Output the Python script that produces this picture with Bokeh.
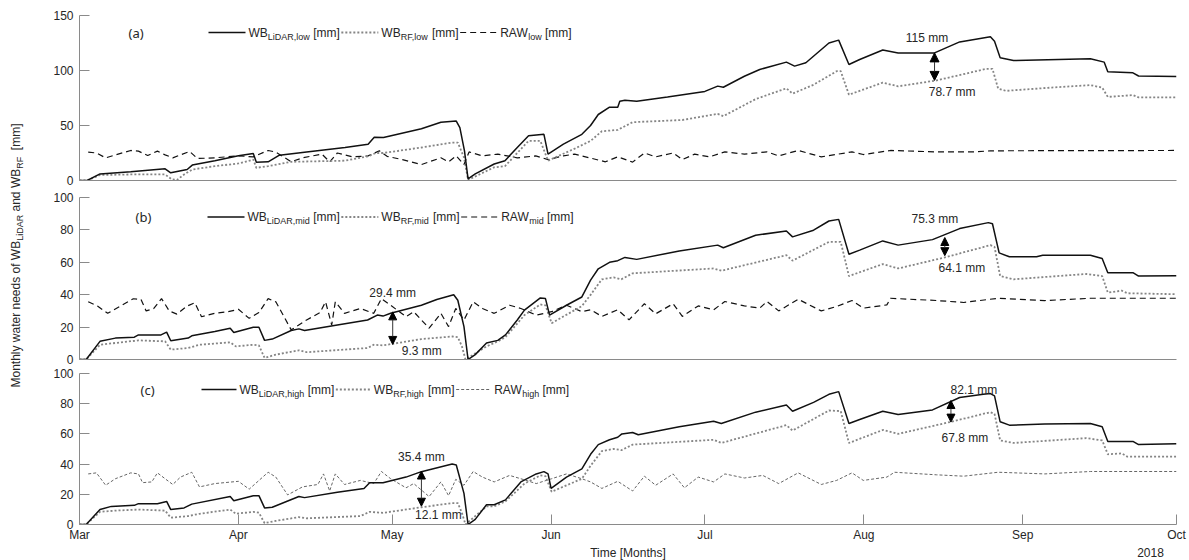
from math import pi
from bokeh.plotting import figure
from bokeh.layouts import row, column
from bokeh.models import Label, Arrow, NormalHead, Range1d, FixedTicker
from bokeh.embed import file_html
from bokeh.resources import INLINE

# ---------------- data (x = days since 1 March 2018) ----------------
MONTH_TICKS = [0, 31, 61, 92, 122, 153, 184, 214]
MONTH_LABELS = ["Mar", "Apr", "May", "Jun", "Jul", "Aug", "Sep", "Oct"]
YEAR_LABEL = "2018"
X_LABEL = "Time [Months]"

# panel (a) low
A_LIDAR_DAY = [0, 1.5, 4, 10, 16.7, 17.8, 21, 22, 26.4, 31, 33.9, 34.5, 36.8, 39, 44.3, 51.8, 56.3, 57.5, 59.3, 66.7,
               70.5, 73.5, 74.2, 75.1, 75.8, 77.2, 80.9, 83, 85.4, 87.6, 90.6, 91.4, 94.4, 98, 99.7, 101.2, 103.4,
               105, 105.4, 106.4, 108.7, 114.7, 122, 124.5, 125.6, 129.7, 132.7, 137.9, 139.5, 141.7, 146.2, 148.1,
               150.1, 152.2, 156.7, 159.7, 166.8, 171.7, 177.7, 178.5, 179.6, 182.2, 197.2, 199.9, 200.6, 205.5,
               206.6, 214]
A_LIDAR = [0, 0, 6, 8, 10.6, 7, 10, 14, 18, 22.5, 24.5, 16.7, 17, 23, 26, 30, 33, 39.4, 39, 47,
           53, 54, 48, 27, 1.5, 6, 15, 18, 30, 40.6, 42, 24, 33, 42, 50, 60, 66.7,
           66.5, 72, 73, 72, 76, 81, 85.8, 84.8, 94.8, 100.9, 107.6, 104, 107, 125, 127.6,
           105.5, 110, 118.6, 116, 116, 126, 130.6, 126.6, 111.5, 109, 110.6, 107.6, 98.8, 97.9,
           95, 94.5]
A_RF_DAY = [0, 1.5, 4, 10, 16.7, 18, 19, 20.4, 22, 26.4, 31, 33.9, 34.5, 36.8, 41.3, 51.8, 56.3, 57.8, 59.3, 66.7,
            72.7, 73.8, 75, 75.8, 80.9, 83, 87.6, 89.9, 91.4, 96.6, 99.7, 101.9, 105, 107.9, 117.6, 124.5, 125.6,
            131.9, 137.9, 139.1, 143.2, 147.7, 148.5, 150.1, 156.7, 159.7, 167.2, 176.9, 178.1, 179.2, 180.7,
            189.7, 197.2, 199.5, 200.6, 205.5, 206.6, 214]
A_RF = [0, 0, 5, 5.5, 5.5, 1, 0.5, 5.5, 10, 13, 15.5, 19, 11.5, 13, 17, 18, 22, 25, 25, 30,
        34.5, 34.5, 21, 0.5, 12, 13, 36, 36, 18, 29, 36, 44.8, 46, 53, 55, 60.6, 58.5,
        74, 83.8, 79, 87, 99.4, 99.4, 78, 89, 85.6, 91, 101.5, 101.5, 83.6, 81.5,
        84.5, 86.7, 84.5, 76, 77.6, 75.5, 75.5]
A_RAW_DAY = [1.7, 3.3, 5.1, 7, 10, 11.5, 13.3, 15.2, 16.7, 18.2, 19.7, 21.5, 23, 26.4, 31, 33.9, 36.8, 38.3, 41.3,
             43.5, 47.3, 48.8, 50.3, 53.3, 56.3, 58.5, 60, 63, 66.7, 68.6, 70.5, 72, 73.5, 75, 76, 78.6, 81.6,
             85.4, 89, 91.4, 94.4, 96.6, 99.5, 102.6, 105, 107.9, 110.2, 112.4, 115.8, 117.6, 120, 122.9, 125.9,
             129.7, 134.1, 136.4, 140.2, 144.7, 150.7, 152.9, 158.2, 167.2, 174.7, 177.7, 214]
A_RAW = [25.8, 25, 20.6, 23.3, 27.3, 26.7, 22.7, 26.7, 23.3, 20.6, 23.3, 26.4, 20, 20.6, 22.4, 21.5, 27.3, 25.8, 17,
         20.6, 24, 17, 25, 21.5, 22.4, 27, 22, 19, 14.5, 17.6, 20.6, 17, 22.4, 14.5, 26, 22.4, 24,
         20.6, 22.4, 19, 22.4, 24, 20.6, 17, 21.5, 16.7, 25, 21.5, 25, 19, 24, 21.5, 26,
         24, 26, 22.4, 27.3, 21.5, 26, 23.6, 27.3, 26, 26, 27, 27.3]

# panel (b) mid
B_LIDAR_DAY = [0, 1.3, 4, 7, 10.7, 11.5, 15.9, 17, 17.8, 21.2, 21.9, 26.4, 29.4, 30.1, 33.9, 35, 36.1, 37.6, 41.3,
               42.8, 43.9, 50.3, 56.2, 58.1, 59.2, 60.7, 66.7, 69.7, 73, 73.8, 75, 75.8, 77.2, 79.4, 81.6, 83.1,
               85.4, 86.8, 89.9, 90.9, 91.7, 95, 98, 99.7, 101.2, 103.4, 105, 106.4, 108.7, 117, 124.5, 125.6,
               131.9, 137.9, 139.1, 143.2, 146.2, 148.1, 150.1, 152.2, 156.7, 159.7, 166.4, 171.7, 177.3, 178.1,
               179.4, 181.4, 186.7, 187.9, 197.2, 199.5, 200.6, 205.5, 206.6, 214]
B_LIDAR = [0, 0, 11.2, 13.2, 13.8, 15.2, 15.2, 16.9, 11.6, 13.2, 14.6, 17.3, 19.3, 16.7, 19.9, 19.9, 11.8, 12.6, 17.9,
           18.9, 17.9, 21.3, 24.4, 27.4, 26.8, 28.5, 33.5, 37, 40, 36.6, 20.3, 0, 3, 10.2, 11.8, 15.2,
           24.4, 30.5, 38, 37.6, 27.4, 33.5, 38.6, 49, 56, 60, 61, 63, 61.8, 67, 70.6, 69,
           76.7, 79.3, 75.7, 79.8, 85.5, 86.5, 65, 67.5, 73.2, 70.6, 74, 80.8, 84.5, 83.8,
           65.8, 63.4, 63.4, 64.4, 64.4, 62.4, 53.6, 53.6, 51.5, 51.7]
B_RF_DAY = [0, 1.3, 4, 7, 11.5, 16.7, 17.8, 21.2, 23.4, 29.4, 30.5, 33.9, 35, 36.1, 38.3, 42.8, 44.3, 56.2, 57.4,
            59.2, 66.7, 72.7, 73.8, 74.6, 75.3, 79.4, 81.6, 83.1, 86.8, 89.9, 90.9, 92.1, 98, 99.7, 101.9, 104.2,
            105.7, 107.9, 123.7, 125.2, 137.9, 139.1, 146.2, 148.5, 150.1, 156.7, 159.7, 168.8, 177.7, 178.5,
            179.6, 182.2, 196.4, 199.5, 200.6, 203.3, 204.4, 214]
B_RF = [0, 0, 9.1, 10.2, 11.8, 11.2, 6.1, 7.1, 9.1, 10.6, 8.1, 9.1, 8.7, 1, 3, 5.7, 4.5, 7.1, 9.1,
        8.7, 12.6, 14.2, 13.8, 8.1, 0, 8.1, 11.2, 13.8, 27.4, 34, 33.4, 22.4, 33, 39.9, 49.5, 50.7,
        49.5, 53.2, 56.2, 54.8, 64.4, 61, 72.6, 72.6, 51.5, 58.9, 56.2, 63, 70.6, 69.5,
        51.5, 49.5, 52.8, 51.5, 41.3, 42.5, 40.9, 40.3]
B_RAW_DAY = [1.7, 3.5, 5.5, 8, 10.5, 12, 13, 14.5, 16, 17.5, 19, 21, 22.5, 23.8, 26.4, 29, 31, 33.1, 35, 36.8, 38.3,
             41.3, 44.3, 46.9, 48, 49.2, 49.9, 51.7, 54.8, 57.4, 58.9, 60.7, 63.7, 65.2, 68.2, 70.5, 72, 73.4,
             75, 76.8, 78.6, 80.9, 83.9, 86.1, 89.1, 92.1, 95, 98, 99.7, 101.9, 105, 107.2, 110.2, 112.4, 115.8,
             117.6, 120.7, 123.7, 125.9, 129.7, 132.7, 134.1, 136.4, 140.2, 144.7, 147.7, 150.7, 152.9, 157.5,
             158.2, 167.2, 172.5, 179.2, 188.3, 197.2, 214]
B_RAW = [35.6, 33, 28.5, 33, 37.5, 37, 30, 31.5, 37.6, 30, 28, 33, 35, 26.4, 28.5, 29.5, 31, 25.4, 29, 37.6, 35.6,
         18.3, 24.4, 28.9, 35.6, 21.3, 35.6, 28.5, 31.5, 28.5, 37.6, 33.5, 26.4, 29.5, 19.3, 28.5, 20.3, 31.5,
         24.4, 35.6, 31.5, 28.5, 33.5, 31.5, 27.4, 29.5, 33.5, 29.5, 30.7, 26.6, 30.7, 24.5, 34.4, 28.2, 34.4,
         26.6, 33.1, 30.7, 35.8, 33.1, 31.7, 35.8, 30, 37.2, 30, 32.7, 36.4, 31.7, 33.7,
         37.8, 36.4, 35.2, 37.8, 36.4, 37.8, 37.8]

# panel (c) high
C_LIDAR_DAY = [0, 1.3, 4, 6.2, 10.7, 11.5, 15.2, 17, 17.8, 20.4, 21.9, 29.4, 30.1, 33.9, 35, 36.1, 37.6, 42.8, 43.9,
               50.3, 55.5, 56.6, 59.2, 63.7, 66.7, 72.7, 73.5, 75, 75.8, 77.2, 79.4, 80.9, 83.1, 86.1, 89.1, 90.6,
               91.4, 92, 95, 98, 99.7, 101.2, 103.4, 105, 105.8, 107.9, 109, 117, 123.7, 125.2, 131.9, 137.9,
               139.1, 143.2, 146.2, 148.1, 150.1, 152.2, 156.7, 159.7, 166.4, 171.7, 176.3, 177.7, 178.5, 179.6,
               181.4, 188.3, 197.2, 199.5, 200.6, 205.5, 206.6, 214]
C_LIDAR = [0, 0, 9.9, 12, 12.7, 13.8, 13.8, 15.3, 9.9, 11, 13.5, 18.5, 15.7, 19.1, 19.1, 11, 11.4, 18.5, 17.8,
           21.3, 23.9, 27.7, 27.7, 31.4, 35, 40, 39.4, 20.6, 0, 3.4, 13.1, 13.1, 16.3, 28.2, 33.5, 35,
           33.5, 23.9, 31.4, 36.8, 46.5, 52.9, 56.1, 57.8, 60, 60.9, 59.4, 64.7, 68.4, 66.9, 74.4, 79.1,
           75, 80.9, 86.2, 88, 66.9, 69.5, 75, 72.9, 75.9, 84.1, 86.2, 86.7, 85.2, 68,
           65.8, 66.5, 66.9, 64.7, 55, 55, 52.9, 53.5]
C_RF_DAY = [0, 1.3, 4, 7, 11.5, 16.7, 17.8, 21.2, 23.4, 29.4, 30.5, 33.9, 35, 36.1, 38.3, 42.8, 44.3, 54.8, 56.6,
            59.2, 66.7, 72.7, 73.8, 74.6, 75.3, 79.4, 80.9, 83.1, 86.8, 89.9, 90.9, 92.1, 98, 99.7, 101.9, 104.2,
            105.7, 107.9, 123.7, 125.2, 137.9, 139.1, 146.2, 148.5, 150.1, 156.7, 159.7, 170, 177.7, 178.5,
            179.6, 182.2, 196.4, 199.5, 200.6, 203.3, 204.4, 214]
C_RF = [0, 0, 8.4, 9.2, 9.9, 9.2, 4.5, 5.6, 7.1, 9.9, 7.1, 8.4, 7.8, 0.9, 2.4, 4.9, 4.1, 5.6, 8.4,
        7.7, 11.4, 14.2, 14.2, 7.7, 0, 12, 12, 15.3, 27.1, 32.5, 32, 21.7, 30.3, 38.9, 48.6, 50.1,
        49.2, 52.9, 56.1, 54, 65.8, 62.2, 75.5, 75.1, 54, 62.6, 60, 68, 74.4, 73.3,
        55.7, 54, 57.2, 55.7, 46.5, 47.1, 44.9, 44.9]
C_RAW_DAY = [1.7, 3.3, 5.1, 7, 10, 11.5, 12.3, 14.1, 15.2, 16.7, 18.2, 19.7, 21.9, 23.4, 26.4, 31, 33.1, 36.8, 38.3,
             40.6, 43.5, 46.5, 47.6, 48.8, 49.9, 51.7, 54.8, 57.4, 58.9, 60.7, 63.7, 65.2, 68.2, 70.5, 72, 73.4,
             75, 76.8, 78.6, 80.9, 83.9, 86.1, 89.1, 92.1, 95, 98, 99.7, 101.9, 105, 107.9, 110.2, 112.4, 115.8,
             118, 120.7, 123.7, 125.9, 129.7, 133.3, 136.4, 140.2, 144.7, 147.7, 150.7, 152.9, 157.5, 159, 167.2,
             172.5, 179.2, 188.3, 197.2, 214]
C_RAW = [33.5, 34.2, 26, 30.3, 34.2, 33.5, 27.7, 28.2, 34.2, 30.3, 26.5, 31.4, 34.6, 24.9, 27.1, 28.6, 23.4, 34.6,
         31.4, 19.6, 24.9, 26.5, 33.5, 22.2, 33.5, 26.5, 29.2, 27.1, 35.1, 30.3, 24.3, 27.1, 18.5, 28.2, 19.1,
         29.9, 26, 35.1, 31.4, 28.2, 32.5, 30.3, 27.1, 30.3, 33.5, 30.3, 28.2, 23.9, 28.6, 22.2, 32, 26, 33.5,
         24.3, 31.4, 28.2, 33.5, 30.8, 32.5, 27.1, 34.2, 26.5, 29.2, 34.2, 29.2, 31.4, 34.6, 32.9,
         32, 34.6, 33.5, 35.1, 35.1]

# annotated differences: (day, upper value, lower value, upper text, lower text)
A_NOTE_DAY = [166.8]
A_NOTE_TOP = [116]
A_NOTE_BOT = [91]
A_NOTE_TXT = [("115 mm", "78.7 mm")]
B_NOTE_DAY = [61.1, 168.8]
B_NOTE_TOP = [29.4, 75.3]
B_NOTE_BOT = [9.3, 64.1]
B_NOTE_TXT = [("29.4 mm", "9.3 mm"), ("75.3 mm", "64.1 mm")]
C_NOTE_DAY = [66.7, 170]
C_NOTE_TOP = [35.4, 82.1]
C_NOTE_BOT = [12.1, 67.8]
C_NOTE_TXT = [("35.4 mm", "12.1 mm"), ("82.1 mm", "67.8 mm")]

# ---------------- styling ----------------
FONT = "Liberation Sans"
AXIS_COL = "#8a8a8a"
TXT_COL = "#262626"
LABEL_W = 30
FRAME_LEFT = 79
W_MAIN = 1159

AW = {' ': 278, '[': 278, ']': 278, ',': 278, 'A': 667, 'B': 667, 'D': 722, 'F': 611, 'L': 556, 'M': 833,
      'R': 722, 'W': 944, 'a': 556, 'd': 556, 'e': 556, 'f': 278, 'g': 556, 'h': 556, 'i': 222, 'l': 222,
      'm': 833, 'n': 556, 'o': 556, 'r': 333, 's': 500, 't': 278, 'w': 722, 'y': 500}


def tw(s, size):
    return sum(AW.get(c, 556) for c in s) * size / 1000.0


def make_fig(height, top, bottom, ymax, yticks, bottom_axis):
    p = figure(width=W_MAIN, height=height, x_range=Range1d(0, 214), y_range=Range1d(0, ymax),
               output_backend="svg", toolbar_location=None,
               min_border_left=FRAME_LEFT - LABEL_W, min_border_right=13,
               min_border_top=top, min_border_bottom=bottom)
    p.grid.visible = False
    p.outline_line_color = None
    p.yaxis.ticker = FixedTicker(ticks=yticks)
    p.yaxis.major_tick_in = 10
    p.yaxis.major_tick_out = 0
    p.yaxis.minor_tick_line_color = None
    p.yaxis.axis_line_color = AXIS_COL
    p.yaxis.major_tick_line_color = AXIS_COL
    p.yaxis.major_label_text_font = FONT
    p.yaxis.major_label_text_font_size = "12px"
    p.yaxis.major_label_text_color = TXT_COL
    p.yaxis.major_label_standoff = 6
    p.xaxis.axis_line_color = AXIS_COL
    p.xaxis.minor_tick_line_color = None
    if bottom_axis:
        p.xaxis.ticker = FixedTicker(ticks=MONTH_TICKS)
        p.xaxis.major_label_overrides = {t: l for t, l in zip(MONTH_TICKS, MONTH_LABELS)}
        p.xaxis.major_tick_in = 10
        p.xaxis.major_tick_out = 0
        p.xaxis.major_tick_line_color = AXIS_COL
        p.xaxis.major_label_text_font = FONT
        p.xaxis.major_label_text_font_size = "12px"
        p.xaxis.major_label_text_color = TXT_COL
        p.xaxis.major_label_standoff = 3
    else:
        p.xaxis.ticker = FixedTicker(ticks=[])
        p.xaxis.major_tick_line_color = None
        p.xaxis.major_label_text_font_size = "0px"
        p.xaxis.major_label_standoff = 0
    return p


def add_series(p, lid_d, lid, rf_d, rf, raw_d, raw, raw_style):
    p.line(raw_d, raw, **raw_style)
    p.line(rf_d, rf, line_color="#858585", line_width=1.8, line_dash="2 2")
    p.line(lid_d, lid, line_color="#111111", line_width=1.5)


def add_legend(p, frame_bottom_abs, y_abs, x_abs, items, tag, tag_x_abs, sample):
    yy = frame_bottom_abs - y_abs
    p.add_layout(Label(x=tag_x_abs - FRAME_LEFT, y=yy, x_units="screen", y_units="screen", text=tag,
                       text_font="Noto Sans", text_font_size="13px", text_color=TXT_COL,
                       text_align="left", text_baseline="middle"))
    x = x_abs - FRAME_LEFT
    for color, dash, width, main, sub in items:
        p.add_layout(Arrow(x_start=x, y_start=yy, x_end=x + sample, y_end=yy,
                           start_units="screen", end_units="screen", start=None, end=None,
                           line_color=color, line_dash=dash, line_width=width))
        x += sample + 3
        p.add_layout(Label(x=x, y=yy, x_units="screen", y_units="screen", text=main, text_font=FONT,
                           text_font_size="12px", text_color=TXT_COL, text_align="left",
                           text_baseline="middle"))
        x += tw(main, 12)
        p.add_layout(Label(x=x, y=yy - 4, x_units="screen", y_units="screen", text=sub, text_font=FONT,
                           text_font_size="9px", text_color=TXT_COL, text_align="left",
                           text_baseline="middle"))
        x += tw(sub, 9) + tw(" ", 12)
        p.add_layout(Label(x=x, y=yy, x_units="screen", y_units="screen", text="[mm]", text_font=FONT,
                           text_font_size="12px", text_color=TXT_COL, text_align="left",
                           text_baseline="middle"))
        x += tw("[mm]", 12) + 1.5


def add_notes(p, days, tops, bots, txts, offsets, head):
    for d, t, b, (tt, bt), (dxt, dyt, dxb, dyb) in zip(days, tops, bots, txts, offsets):
        p.add_layout(Arrow(x_start=d, y_start=b, x_end=d, y_end=t,
                           start=NormalHead(size=head, fill_color="black", line_color="black"),
                           end=NormalHead(size=head, fill_color="black", line_color="black"),
                           line_color="#333333", line_width=1))
        p.add_layout(Label(x=d, y=t, x_offset=dxt, y_offset=dyt, text=tt, text_font=FONT,
                           text_font_size="12px", text_color=TXT_COL, text_align="center",
                           text_baseline="middle"))
        p.add_layout(Label(x=d, y=b, x_offset=dxb, y_offset=dyb, text=bt, text_font=FONT,
                           text_font_size="12px", text_color=TXT_COL, text_align="center",
                           text_baseline="middle"))


def blank_fig(width, height):
    f = figure(width=width, height=height, x_range=Range1d(0, 1), y_range=Range1d(0, 1),
               x_axis_location=None, y_axis_location=None, min_border=0,
               output_backend="svg", toolbar_location=None)
    f.grid.visible = False
    f.outline_line_color = None
    return f


RAW_DASHED = dict(line_color="#111111", line_width=1.2, line_dash="6 4")
RAW_FINE = dict(line_color="#666666", line_width=1.0, line_dash="3 2")
SOLID = ("#111111", "solid", 1.5)
DOTTED = ("#858585", "2 2", 1.8)

# panel a: frame 15..180
pa = make_fig(188, 15, 8, 150, [0, 50, 100, 150], False)
add_series(pa, A_LIDAR_DAY, A_LIDAR, A_RF_DAY, A_RF, A_RAW_DAY, A_RAW, RAW_DASHED)
add_legend(pa, 180, 32, 208,
           [SOLID + ("WB", "LiDAR,low"), DOTTED + ("WB", "RF,low"), ("#111111", "6 4", 1.2, "RAW", "low")],
           "(a)", 128, 37)
add_notes(pa, A_NOTE_DAY, A_NOTE_TOP, A_NOTE_BOT, A_NOTE_TXT, [(-7.5, 14.7, 17.5, -11.5)], 9)

# panel b: frame 197..359
pb = make_fig(178, 9, 7, 100, [0, 20, 40, 60, 80, 100], False)
add_series(pb, B_LIDAR_DAY, B_LIDAR, B_RF_DAY, B_RF, B_RAW_DAY, B_RAW, RAW_DASHED)
add_legend(pb, 359, 216.5, 207,
           [SOLID + ("WB", "LiDAR,mid"), DOTTED + ("WB", "RF,mid"), ("#111111", "6 4", 1.2, "RAW", "mid")],
           "(b)", 135, 37)
add_notes(pb, B_NOTE_DAY, B_NOTE_TOP, B_NOTE_BOT, B_NOTE_TXT,
          [(0, 19, 29, -7), (-10, 19, 17, -12.5)], 8)

# panel c: frame 373..527
pc = make_fig(178, 7, 17, 100, [0, 20, 40, 60, 80, 100], True)
add_series(pc, C_LIDAR_DAY, C_LIDAR, C_RF_DAY, C_RF, C_RAW_DAY, C_RAW, RAW_FINE)
add_legend(pc, 527, 392, 201,
           [SOLID + ("WB", "LiDAR,high"), DOTTED + ("WB", "RF,high"), ("#666666", "3 2", 1.0, "RAW", "high")],
           "(c)", 140, 35)
add_notes(pc, C_NOTE_DAY, C_NOTE_TOP, C_NOTE_BOT, C_NOTE_TXT,
          [(0, 14, 17, -9), (23, 10.7, 14, -16)], 8)

# bottom strip: axis title and year (y 544..560); its frame is aligned with the panels' frames
bf = blank_fig(W_MAIN, 16)
bf.add_layout(Label(x=627.5 - FRAME_LEFT, y=8, x_units="screen", y_units="screen", text=X_LABEL,
                    text_font=FONT, text_font_size="12px", text_color=TXT_COL, text_align="center",
                    text_baseline="middle"))
bf.add_layout(Label(x=1150 - FRAME_LEFT, y=8, x_units="screen", y_units="screen", text=YEAR_LABEL,
                    text_font=FONT, text_font_size="12px", text_color=TXT_COL, text_align="center",
                    text_baseline="middle"))

# y label strip
lf = blank_fig(LABEL_W, 560)
Y_PARTS = [("Monthly water needs of WB", 12, 0), ("LiDAR", 9, 4), (" and WB", 12, 0), ("RF", 9, 4),
           ("  [mm]", 12, 0)]
total = sum(tw(s, sz) for s, sz, _ in Y_PARTS)
ypos = (560 - 255) - total / 2.0
for s, sz, shift in Y_PARTS:
    txt = s.lstrip(" ")
    lead = tw(s[:len(s) - len(txt)], sz)
    lf.add_layout(Label(x=15 + shift, y=ypos + lead, x_units="screen", y_units="screen", text=txt,
                        angle=pi / 2, text_font=FONT, text_font_size=f"{sz}px", text_color=TXT_COL,
                        text_align="left", text_baseline="middle"))
    ypos += tw(s, sz)

layout = row(lf, column(pa, pb, pc, bf, spacing=0), spacing=0)
open("out.html", "w").write(file_html(layout, INLINE))
